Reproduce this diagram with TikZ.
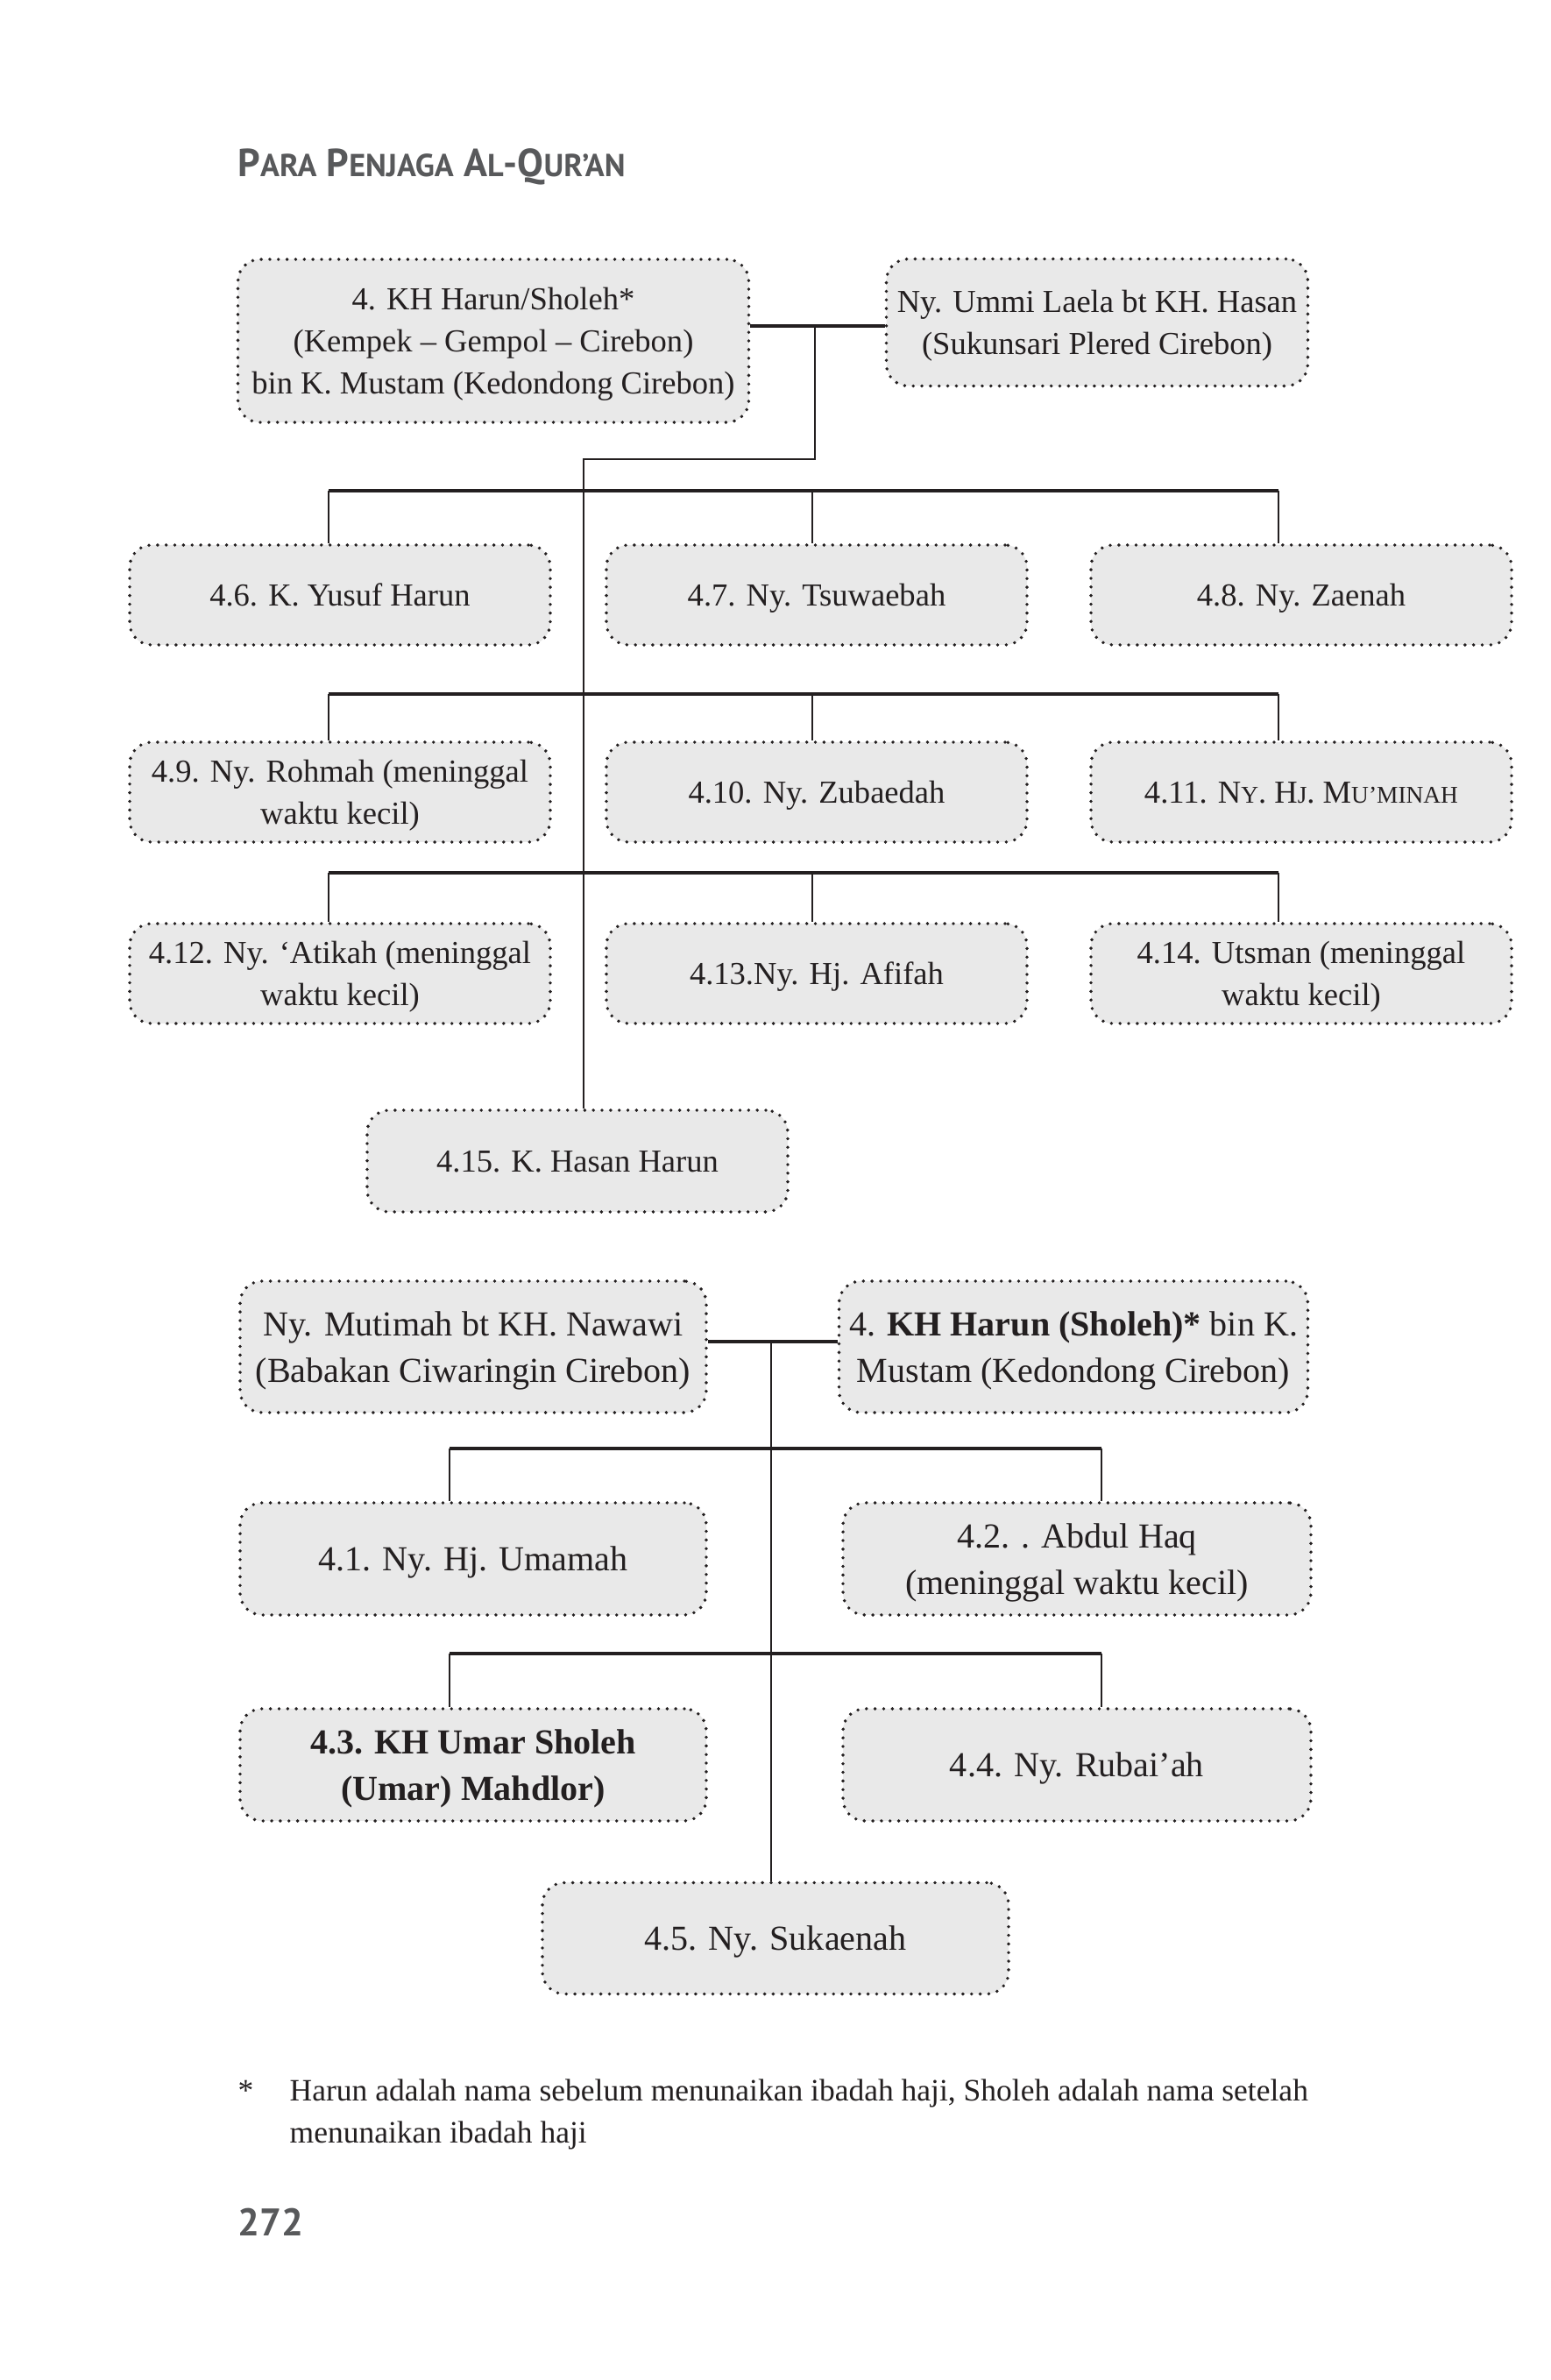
\documentclass[tikz,border=0pt]{standalone}
\usepackage{fontspec}
\setmainfont{Liberation Serif}
\newfontfamily\headfont{PT Sans}
\definecolor{ink}{HTML}{231F20}
\definecolor{boxgray}{HTML}{E9E9E9}
\definecolor{headgray}{HTML}{58595B}
% fake small caps
\newcommand{\hsc}[1]{{\fontsize{10.3}{12}\selectfont #1}}
\newcommand{\bsc}[1]{{\fontsize{7.8}{10}\selectfont #1}}

\begin{document}
\begin{tikzpicture}[
	person/.style={draw=ink, fill=boxgray, line width=1.1pt, dash pattern=on 0pt off 2.8pt, line cap=round, rounded corners=0.25cm, align=center, inner sep=0pt, text depth=0pt, text=ink},
	treeone/.style={font=\fontsize{10.4}{13.6}\selectfont},
	treetwo/.style={font=\fontsize{11.4}{15.2}\selectfont},
	kid/.style={person, treeone, minimum width=4.80cm, minimum height=1.14cm},
	kidtwo/.style={person, treetwo, minimum width=5.32cm, minimum height=1.28cm},
	plain/.style={ink, inner sep=0pt, font=\fontsize{10.1}{13.6}\selectfont},
	bar/.style={draw=ink, line width=0.9pt},
	stem/.style={draw=ink, line width=0.55pt}]
	\useasboundingbox[fill=white] (0,0) rectangle (17.70,27.16);
	% header
	\node[headgray, anchor=west, inner sep=0pt, font=\headfont\bfseries\fontsize{12.7}{14}\selectfont] (head) at (2.71,25.26) {P\hsc{ARA} P\hsc{ENJAGA} A\hsc{L}-Q\hsc{UR’AN}};
	% first family
	\node[person, treeone, minimum width=5.83cm, minimum height=1.86cm] (harun) at (5.63,23.27) {4. KH Harun/Sholeh*\\(Kempek – Gempol – Cirebon)\\bin K. Mustam (Kedondong Cirebon)};
	\node[person, treeone, minimum width=4.81cm, minimum height=1.45cm] (laela) at (12.52,23.48) {Ny. Ummi Laela bt KH. Hasan\\(Sukunsari Plered Cirebon)};
	\node[kid] (yusuf) at (3.88,20.37) {4.6. K. Yusuf Harun};
	\node[kid] (tsuwaebah) at (9.32,20.37) {4.7. Ny. Tsuwaebah};
	\node[kid] (zaenah) at (14.85,20.37) {4.8. Ny. Zaenah};
	\node[kid] (rohmah) at (3.88,18.12) {4.9. Ny. Rohmah (meninggal\\waktu kecil)};
	\node[kid] (zubaedah) at (9.32,18.12) {4.10. Ny. Zubaedah};
	\node[kid] (muminah) at (14.85,18.12) {4.11. N\bsc{Y}. H\bsc{J}. M\bsc{U’MINAH}};
	\node[kid] (atikah) at (3.88,16.05) {4.12. Ny. ‘Atikah (meninggal\\waktu kecil)};
	\node[kid] (afifah) at (9.32,16.05) {4.13.Ny. Hj. Afifah};
	\node[kid] (utsman) at (14.85,16.05) {4.14. Utsman (meninggal\\waktu kecil)};
	\node[kid, minimum height=1.16cm] (hasan) at (6.59,13.91) {4.15. K. Hasan Harun};
	\coordinate (m1) at (9.30,23.44);
	\coordinate (t1) at (9.30,21.92);
	\coordinate (t1b) at (6.66,21.92);
	\draw[bar] (harun.east |- m1) -- (laela.west |- m1);
	\draw[stem] (m1) -- (t1) -- (t1b) -- (t1b |- hasan.north);
	\foreach \r/\y/\a/\b/\c in {1/21.56/yusuf/tsuwaebah/zaenah, 2/19.24/rohmah/zubaedah/muminah, 3/17.20/atikah/afifah/utsman}{
		\coordinate (b\r l) at (3.75,\y);
		\coordinate (b\r m) at (9.27,\y);
		\coordinate (b\r r) at (14.59,\y);
		\draw[bar] (b\r l) -- (b\r r);
		\draw[stem] (b\r l) -- (b\r l |- \a.north);
		\draw[stem] (b\r m) -- (b\r m |- \b.north);
		\draw[stem] (b\r r) -- (b\r r |- \c.north);
	}
	% second family
	\node[person, treetwo, minimum width=5.32cm, minimum height=1.50cm] (mutimah) at (5.40,11.79) {Ny. Mutimah bt KH. Nawawi\\(Babakan Ciwaringin Cirebon)};
	\node[person, treetwo, minimum width=5.35cm, minimum height=1.50cm] (sholeh) at (12.25,11.79) {4. \textbf{KH Harun (Sholeh)*} bin K.\\Mustam (Kedondong Cirebon)};
	\node[kidtwo] (umamah) at (5.40,9.37) {4.1. Ny. Hj. Umamah};
	\node[kidtwo, minimum width=5.34cm] (abdulhaq) at (12.29,9.37) {4.2. . Abdul Haq\\(meninggal waktu kecil)};
	\node[kidtwo, font=\fontsize{11.4}{15.2}\selectfont\bfseries] (umar) at (5.40,7.02) {4.3. KH Umar Sholeh\\(Umar) Mahdlor)};
	\node[kidtwo, minimum width=5.34cm] (rubaiah) at (12.29,7.02) {4.4. Ny. Rubai’ah};
	\node[kidtwo, minimum height=1.27cm] (sukaenah) at (8.85,5.04) {4.5. Ny. Sukaenah};
	\coordinate (m2) at (8.80,11.85);
	\draw[bar] (mutimah.east |- m2) -- (sholeh.west |- m2);
	\draw[stem] (m2) -- (m2 |- sukaenah.north);
	\foreach \r/\y/\a/\b in {4/10.63/umamah/abdulhaq, 5/8.29/umar/rubaiah}{
		\coordinate (b\r l) at (5.13,\y);
		\coordinate (b\r r) at (12.57,\y);
		\draw[bar] (b\r l) -- (b\r r);
		\draw[stem] (b\r l) -- (b\r l |- \a.north);
		\draw[stem] (b\r r) -- (b\r r |- \b.north);
	}
	% footnote and page number
	\node[plain, anchor=base west] (star) at (2.71,3.18) {*};
	\node[plain, anchor=base west] (note1) at (3.30,3.18) {Harun adalah nama sebelum menunaikan ibadah haji, Sholeh adalah nama setelah};
	\node[plain, anchor=base west] (note2) at (3.30,2.70) {menunaikan ibadah haji};
	\node[headgray, anchor=west, inner sep=0pt, font=\headfont\bfseries\fontsize{12.5}{14}\selectfont] (page) at (2.71,1.80) {272};
\end{tikzpicture}
\end{document}
